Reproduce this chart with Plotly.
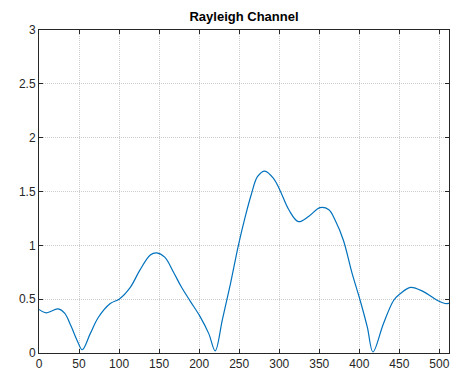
import plotly.graph_objects as go

sample_index = [0, 9, 16, 24, 32, 40, 48, 54, 64, 74, 89, 100, 114, 126, 139, 147,
                157, 168, 178, 189, 201, 212, 220, 229, 239, 249, 257, 265, 273, 282,
                293, 301, 312, 324, 337, 351, 362, 370, 380, 391, 401, 410, 417, 430,
                443, 451, 464, 480, 497, 507, 512]
channel_gain = [0.405, 0.373, 0.39, 0.41, 0.37, 0.25, 0.11, 0.03, 0.18, 0.33, 0.46, 0.50,
                0.61, 0.77, 0.91, 0.93, 0.89, 0.75, 0.61, 0.48, 0.34, 0.18, 0.02, 0.31,
                0.64, 1.00, 1.25, 1.47, 1.64, 1.69, 1.62, 1.51, 1.33, 1.22, 1.27, 1.35,
                1.33, 1.23, 1.05, 0.74, 0.49, 0.24, 0.01, 0.27, 0.49, 0.55, 0.61, 0.57,
                0.49, 0.46, 0.46]

x_ticks = [0, 50, 100, 150, 200, 250, 300, 350, 400, 450, 500]
y_ticks = [0, 0.5, 1, 1.5, 2, 2.5, 3]
title_text = "Rayleigh Channel"

fig = go.Figure()
fig.add_trace(go.Scatter(
    x=sample_index, y=channel_gain, mode="lines",
    line=dict(color="#0072BD", width=1.2, shape="spline", smoothing=1.0),
    showlegend=False, hoverinfo="skip"))

axis_common = dict(
    showline=True, linecolor="#262626", linewidth=1, mirror="ticks",
    ticks="inside", ticklen=4, tickcolor="#262626", tickwidth=1,
    showgrid=True, gridcolor="#cdcdcd", griddash="1px,1px", gridwidth=1,
    zeroline=False, automargin=False,
    tickfont=dict(family="Liberation Sans, Arial", size=12, color="#262626"),
)

fig.update_layout(
    width=451, height=374,
    margin=dict(l=39, r=2, t=30, b=21, autoexpand=False),
    paper_bgcolor="white", plot_bgcolor="white",
    title=dict(text=f"<b>{title_text}</b>", x=0.5, xref="paper", xanchor="center",
               y=1 - 16 / 374, yref="container", yanchor="middle",
               font=dict(family="Liberation Sans, Arial", size=13, color="black")),
    xaxis=dict(range=[0, 512], tickvals=x_ticks, **axis_common),
    yaxis=dict(range=[0, 3], tickvals=y_ticks, **axis_common),
)

fig.write_html("out.html", config={"displayModeBar": False},
               post_script="document.body.style.margin='0';document.body.style.overflow='hidden';")
